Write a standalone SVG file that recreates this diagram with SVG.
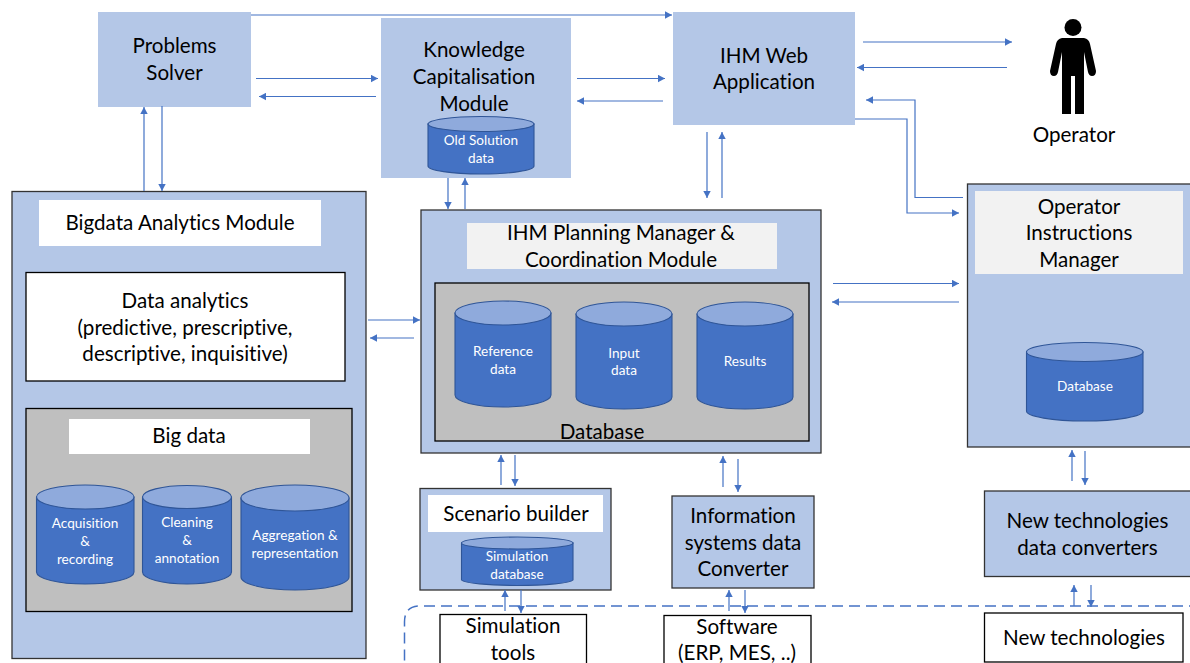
<svg xmlns="http://www.w3.org/2000/svg" width="1190" height="663" viewBox="0 0 1190 663">
<style>
text{font-family:Lato,Carlito,"Open Sans",sans-serif;text-anchor:middle;font-variant-ligatures:none}
.t{font-size:20.6px;fill:#000}
.s{font-size:13.6px;fill:#fff}
.b{fill:#b4c7e7}
.bk{fill:#b4c7e7;stroke:#333;stroke-width:1.3}
.w{fill:#fff;stroke:#000;stroke-width:1.3}
.g{fill:#bfbfbf;stroke:#000;stroke-width:1.3}
.cb{fill:#4472c4;stroke:#2f5597;stroke-width:1.1}
.ct{fill:#8faadc;stroke:#2f5597;stroke-width:1.1}
.a{fill:none;stroke:#4472c4;stroke-width:1.2;marker-end:url(#ah)}
</style>
<defs><marker id="ah" markerUnits="userSpaceOnUse" markerWidth="8" markerHeight="8" refX="7" refY="4" orient="auto"><path d="M0,0.300L7,4L0,7.700Z" fill="#4472c4"/></marker></defs>
<rect width="1190" height="663" fill="#fff"/>

<g id="problems-solver"><rect class="b" x="98" y="12" width="153" height="95"/><text class="t" x="174.500" y="53">Problems</text><text class="t" x="174.500" y="80">Solver</text></g>

<g id="knowledge-module"><rect class="b" x="381" y="18" width="190" height="160"/><text class="t" x="474" y="57">Knowledge</text><text class="t" x="474" y="84">Capitalisation</text><text class="t" x="474" y="111">Module</text>
<path class="cb" d="M428,124V166A53,8 0 0 0 534,166V124Z"/><ellipse class="ct" cx="481" cy="124" rx="53" ry="7.500"/><text class="s" x="481" y="145">Old Solution</text><text class="s" x="481" y="163">data</text></g>

<g id="web-application"><rect class="b" x="673" y="12" width="182" height="113"/><text class="t" x="764" y="63">IHM Web</text><text class="t" x="764" y="89">Application</text></g>

<g id="operator"><circle cx="1073" cy="27.500" r="8.500" fill="#000"/><path d="M1062,38H1084Q1089,39 1090,44L1096,71Q1096,76 1092,76Q1089,76 1088,72L1084,52V114H1075V76H1071V114H1062V52L1058,72Q1057,76 1054,76Q1050,76 1050,71L1056,44Q1057,39 1062,38Z" fill="#000"/><text class="t" x="1074" y="142">Operator</text></g>

<g id="bigdata-module"><rect class="bk" x="12" y="191.500" width="354" height="467"/><rect x="39" y="200" width="282" height="46" fill="#fff"/><text class="t" x="180" y="230">Bigdata Analytics Module</text>
<rect class="w" x="26" y="272.500" width="319" height="108.500"/><text class="t" x="185" y="308">Data analytics</text><text class="t" x="185" y="335">(predictive, prescriptive,</text><text class="t" x="185" y="361">descriptive, inquisitive)</text>
<rect class="g" x="26" y="408.500" width="326" height="203"/><rect x="69" y="419" width="241" height="35" fill="#fff"/><text class="t" x="189" y="443">Big data</text>
<path class="cb" d="M36.500,497V572A48.500,12 0 0 0 134,572V497Z"/><ellipse class="ct" cx="85.250" cy="497" rx="48.750" ry="12"/><text class="s" x="85" y="528">Acquisition</text><text class="s" x="85" y="546">&amp;</text><text class="s" x="85" y="564">recording</text>
<path class="cb" d="M142.500,497V572A44.500,12 0 0 0 231.500,572V497Z"/><ellipse class="ct" cx="187" cy="497" rx="44.500" ry="11.500"/><text class="s" x="187" y="527">Cleaning</text><text class="s" x="187" y="545">&amp;</text><text class="s" x="187" y="563">annotation</text>
<path class="cb" d="M241,498V577A54,13 0 0 0 349,577V498Z"/><ellipse class="ct" cx="295" cy="498" rx="54" ry="13"/><text class="s" x="295" y="540">Aggregation &amp;</text><text class="s" x="295" y="558">representation</text></g>

<g id="planning-manager"><rect class="bk" x="421" y="210" width="400" height="243"/><rect x="467" y="223" width="310" height="46" fill="#f2f2f2"/><text class="t" x="621" y="240">IHM Planning Manager &amp;</text><text class="t" x="621" y="267">Coordination Module</text>
<rect class="g" x="435" y="283" width="374" height="158"/>
<path class="cb" d="M455,313V395A48,12 0 0 0 551,395V313Z"/><ellipse class="ct" cx="503" cy="313" rx="48" ry="12"/><text class="s" x="503" y="356">Reference</text><text class="s" x="503" y="374">data</text>
<path class="cb" d="M576,314V397A48,12 0 0 0 672,397V314Z"/><ellipse class="ct" cx="624" cy="314" rx="48" ry="12"/><text class="s" x="624" y="358">Input</text><text class="s" x="624" y="375">data</text>
<path class="cb" d="M697,314V397A48,12 0 0 0 793,397V314Z"/><ellipse class="ct" cx="745" cy="314" rx="48" ry="12"/><text class="s" x="745" y="366">Results</text>
<text class="t" x="602" y="439">Database</text></g>

<g id="instructions-manager"><rect class="bk" x="967.500" y="184" width="240" height="263"/><rect x="975" y="191" width="208" height="83" fill="#f2f2f2"/><text class="t" x="1079" y="214">Operator</text><text class="t" x="1079" y="240">Instructions</text><text class="t" x="1079" y="267">Manager</text>
<path class="cb" d="M1026.500,352V411A58,10 0 0 0 1143,411V352Z"/><ellipse class="ct" cx="1084.750" cy="352" rx="58.250" ry="9.500"/><text class="s" x="1085" y="391">Database</text></g>

<g id="scenario-builder"><rect class="bk" x="420" y="488.500" width="191" height="101.500"/><rect x="428" y="495" width="175" height="37" fill="#fff"/><text class="t" x="516" y="521">Scenario builder</text>
<path class="cb" d="M461.500,543V580A56,6 0 0 0 573,580V543Z"/><ellipse class="ct" cx="517.250" cy="543" rx="55.750" ry="6"/><text class="s" x="517" y="561">Simulation</text><text class="s" x="517" y="579">database</text></g>

<g id="information-converter"><rect class="bk" x="672" y="496" width="142" height="92"/><text class="t" x="743" y="523">Information</text><text class="t" x="743" y="550">systems data</text><text class="t" x="743" y="576">Converter</text></g>

<g id="technologies-converter"><rect class="bk" x="984.500" y="491" width="230" height="85.500"/><text class="t" x="1087.500" y="528">New technologies</text><text class="t" x="1087.500" y="555">data converters</text></g>

<path id="external-boundary" d="M1200,606H420Q404.500,606 404.500,622V670" fill="none" stroke="#4472c4" stroke-width="1.500" stroke-dasharray="11 6"/>

<g id="simulation-tools"><rect class="w" x="440" y="614.500" width="146.500" height="60"/><text class="t" x="513" y="633">Simulation</text><text class="t" x="513" y="660">tools</text></g>
<g id="software"><rect class="w" x="664" y="615.500" width="147" height="60"/><text class="t" x="737" y="634">Software</text><text class="t" x="737" y="660">(ERP, MES, ..)</text></g>
<g id="new-technologies"><rect class="w" x="984.500" y="613" width="198.500" height="49"/><text class="t" x="1084" y="645">New technologies</text></g>

<g id="connectors">
<path class="a" d="M251,15H672"/>
<path class="a" d="M256,78.500H378"/><path class="a" d="M376,96.500H259"/>
<path class="a" d="M577,78.500H665"/><path class="a" d="M663,101H577"/>
<path class="a" d="M863,42H1012"/><path class="a" d="M1007,67.500H857"/>
<path class="a" d="M963,197.500H915V100H866"/><path class="a" d="M855,119H907V213H959"/>
<path class="a" d="M707,132V198"/><path class="a" d="M722,198V132"/>
<path class="a" d="M448,178V209"/><path class="a" d="M465,209V178"/>
<path class="a" d="M144,191V107"/><path class="a" d="M162,106V191"/>
<path class="a" d="M368,320H420"/><path class="a" d="M414,338H370"/>
<path class="a" d="M833,283.500H959"/><path class="a" d="M959,302H832"/>
<path class="a" d="M501,485V455"/><path class="a" d="M515,455V486"/>
<path class="a" d="M723,487V456"/><path class="a" d="M738,459V492"/>
<path class="a" d="M1072,481V450"/><path class="a" d="M1085,451V485"/>
<path class="a" d="M505,611V590"/><path class="a" d="M521,590V613"/>
<path class="a" d="M729,611V590"/><path class="a" d="M745,590V613"/>
<path class="a" d="M1074,606V585"/><path class="a" d="M1091,585V607"/>
</g>
</svg>
